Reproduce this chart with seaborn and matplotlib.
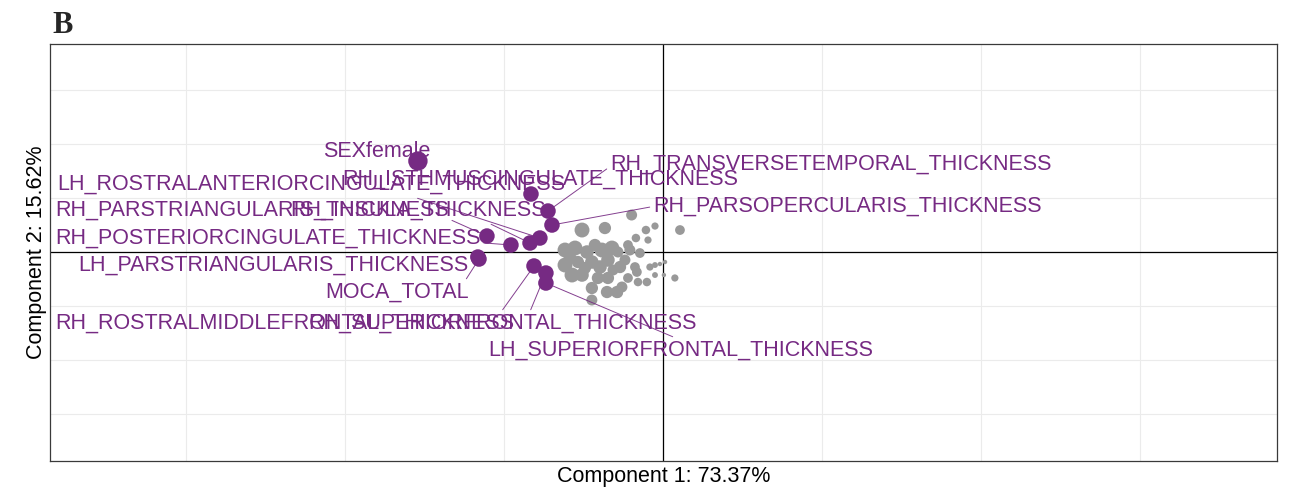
import numpy as np
import pandas as pd
import matplotlib
matplotlib.use("Agg")
import matplotlib.pyplot as plt
import seaborn as sns

# ---- data: individuals (grey) ----
ind_x = [-0.197, -0.365, -0.509, -0.050, 0.107, -0.107, -0.170, -0.094, -0.220, -0.616,
         -0.553, -0.478, -0.384, -0.321, -0.283, -0.145, -0.616, -0.535, -0.447, -0.396,
         -0.346, -0.239, -0.270, -0.176, -0.164, -0.157, -0.082, -0.050, -0.019, 0.013,
         -0.050, 0.006, 0.075, -0.101, -0.572, -0.509, -0.409, -0.346, -0.447, -0.352,
         -0.289, -0.447, -0.258, -0.283, -0.585, -0.428, -0.208, -0.491, -0.314, -0.220]
ind_y = [0.685, 0.444, 0.407, 0.481, 0.407, 0.407, 0.259, 0.222, 0.130, 0.037,
         0.074, 0.000, 0.037, 0.074, 0.000, -0.019, -0.241, -0.185, -0.185, -0.278,
         -0.148, -0.148, -0.278, -0.278, -0.370, -0.556, -0.278, -0.241, -0.222, -0.185,
         -0.426, -0.426, -0.481, -0.556, -0.426, -0.426, -0.481, -0.481, -0.667, -0.741,
         -0.741, -0.889, -0.648, -0.759, -0.093, 0.130, 0.037, -0.296, -0.333, -0.481]
ind_cos2 = [0.50, 0.62, 0.90, 0.23, 0.40, 0.31, 0.31, 0.23, 0.40, 0.90,
            0.90, 0.75, 0.90, 0.90, 0.50, 0.40, 0.90, 0.62, 0.75, 0.75,
            0.75, 0.50, 0.62, 0.40, 0.40, 0.31, 0.23, 0.16, 0.10, 0.10,
            0.16, 0.10, 0.23, 0.31, 0.90, 0.75, 0.62, 0.62, 0.62, 0.62,
            0.62, 0.50, 0.50, 0.40, 0.62, 0.62, 0.50, 0.62, 0.50, 0.40]

# ---- data: variables (purple) ----
var_names = ["SEXfemale", "RH_ISTHMUSCINGULATE_THICKNESS", "RH_TRANSVERSETEMPORAL_THICKNESS",
             "LH_ROSTRALANTERIORCINGULATE_THICKNESS", "RH_PARSTRIANGULARIS_THICKNESS",
             "RH_INSULA_THICKNESS", "RH_PARSOPERCULARIS_THICKNESS",
             "RH_POSTERIORCINGULATE_THICKNESS", "LH_PARSTRIANGULARIS_THICKNESS", "MOCA_TOTAL",
             "RH_ROSTRALMIDDLEFRONTAL_THICKNESS", "RH_SUPERIORFRONTAL_THICKNESS",
             "LH_SUPERIORFRONTAL_THICKNESS"]
var_x = [-1.541, -0.830, -0.723, -0.774, -1.107, -0.836, -0.698, -0.956, -1.164, -1.157,
         -0.811, -0.736, -0.736]
var_y = [1.685, 1.074, 0.759, 0.259, 0.296, 0.167, 0.500, 0.130, -0.093, -0.130,
         -0.259, -0.389, -0.574]
var_contrib = [9.5, 6.0, 6.0, 6.0, 6.0, 6.0, 6.0, 6.0, 6.0, 6.0, 6.0, 6.0, 6.0]

x_title = "Component 1: 73.37%"
y_title = "Component 2: 15.62%"
panel_tag = "B"

# ---- label layout (repel result): offset of baseline-left in pixels, segment anchor on label ----
label_offset = [(-95, 4), (-189, 9), (62, 41), (-483, 48), (-432, 20), (-240, 27), (101, 13),
                (-456, 1), (-400, -14), (-154, -39), (-479, -63), (-238, -56), (-58, -73)]
label_relpos = [None, None, (0, 0.4), (0.69, 0), (1, 0.1), (0.76, 0), (0, 0.5),
                (1, 0.3), None, (0.97, 1), (0.97, 1), (0.57, 1), (0.5, 1)]

purple = "#762A83"
grey = "#999999"

sns.set_theme(style="white")
plt.rcParams["font.family"] = ["Liberation Sans", "DejaVu Sans"]

fig = plt.figure(figsize=(12.9, 4.94), dpi=100)
ax = fig.add_axes([50 / 1290, 33 / 494, 1227 / 1290, 417 / 494])

ind = pd.DataFrame({"x": ind_x, "y": ind_y, "cos2": ind_cos2})
var = pd.DataFrame({"x": var_x, "y": var_y, "contrib": var_contrib, "name": var_names})

ax.axhline(0, color="black", lw=0.9, zorder=2)
ax.axvline(0, color="black", lw=0.9, zorder=2)

sns.scatterplot(data=ind, x="x", y="y", size="cos2", sizes=(10, 115), size_norm=(0.1, 0.9),
                color=grey, linewidth=0, legend=False, ax=ax, zorder=3)
sns.scatterplot(data=var, x="x", y="y", size="contrib", sizes=(125, 195), size_norm=(6, 9.5),
                color=purple, linewidth=0, legend=False, ax=ax, zorder=4)

for i, row in var.iterrows():
    rp = label_relpos[i]
    arrow = None
    if rp is not None:
        arrow = dict(arrowstyle="-", color=purple, lw=0.7, alpha=0.9,
                     shrinkA=0, shrinkB=3, relpos=rp)
    ax.annotate(row["name"], xy=(row["x"], row["y"]), xytext=label_offset[i],
                textcoords="offset pixels", ha="left", va="baseline",
                fontsize=15.5, color=purple, arrowprops=arrow, zorder=5)

ax.set_xlim(-3.855, 3.862)
ax.set_ylim(-3.870, 3.852)
ax.set_xticks(range(-3, 4))
ax.set_yticks(range(-3, 4))
ax.grid(True, color="#EBEBEB", lw=0.8)
ax.set_axisbelow(True)
ax.tick_params(length=0, labelbottom=False, labelleft=False)
for s in ax.spines.values():
    s.set_color("#3a3a3a")
    s.set_linewidth(0.9)

ax.set_xlabel(x_title, fontsize=15.5, labelpad=3.5, color="black")
ax.set_ylabel(y_title, fontsize=15.5, labelpad=2.5, color="black")

fig.text(52 / 1290, 1 - 33 / 494, panel_tag, fontfamily="Liberation Serif", fontweight="bold",
         fontsize=22, va="baseline", ha="left")

fig.savefig("out.png", dpi=100)
